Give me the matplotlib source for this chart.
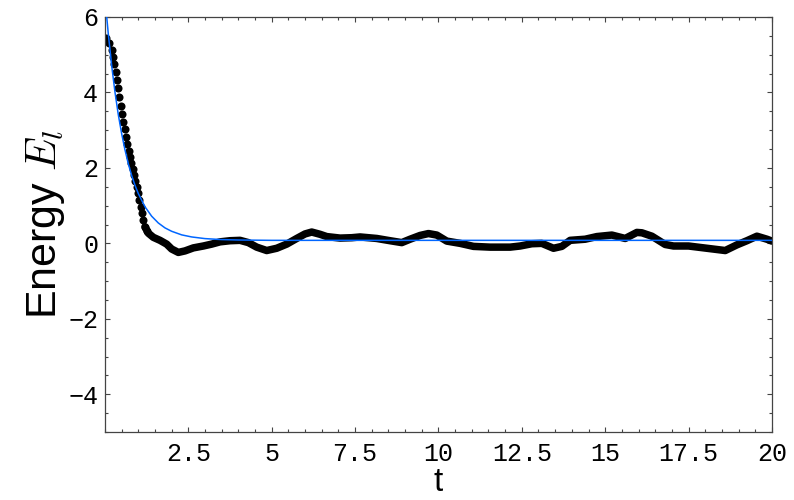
#!/usr/bin/env python3
"""Energy E_l against time t: sampled values (black) and the fitted decay (blue)."""

import matplotlib
matplotlib.use("Agg")
import matplotlib.pyplot as plt
from matplotlib.ticker import MultipleLocator

# early samples, drawn as separate dots on the steep drop
t_dots = [0.03, 0.13, 0.20, 0.25, 0.28, 0.32, 0.35, 0.39, 0.43, 0.47, 0.51,
          0.55, 0.59, 0.63, 0.67, 0.71, 0.75, 0.79, 0.83, 0.87, 0.91, 0.95,
          0.99, 1.03, 1.07, 1.11, 1.15, 1.20, 1.25]
e_dots = [5.44, 5.30, 5.13, 4.95, 4.75, 4.54, 4.33, 4.11, 3.87, 3.65, 3.43,
          3.23, 3.02, 2.83, 2.63, 2.46, 2.30, 2.14, 1.97, 1.81, 1.66, 1.50,
          1.34, 1.15, 0.97, 0.80, 0.62, 0.44, 0.34]

# later samples, dense enough that the dots merge into a thick trace
t_trace = [1.20, 1.30, 1.45, 1.65, 1.85, 2.00, 2.20, 2.40, 2.65, 2.95, 3.20,
           3.45, 3.75, 4.05, 4.30, 4.55, 4.85, 5.15, 5.45, 5.75, 6.00, 6.20,
           6.45, 6.65, 7.05, 7.40, 7.65, 8.15, 8.55, 8.90, 9.15, 9.45, 9.70,
           9.95, 10.25, 10.65, 11.05, 11.55, 12.15, 12.45, 12.80, 13.10,
           13.45, 13.70, 13.95, 14.40, 14.75, 15.20, 15.60, 15.95, 16.10,
           16.40, 16.80, 17.05, 17.50, 18.05, 18.60, 18.95, 19.25, 19.55,
           19.85, 20.00]
e_trace = [0.44, 0.27, 0.16, 0.08, -0.02, -0.15, -0.24, -0.20, -0.12, -0.07,
           -0.02, 0.04, 0.07, 0.08, 0.02, -0.10, -0.19, -0.13, -0.02, 0.13,
           0.25, 0.30, 0.24, 0.18, 0.14, 0.15, 0.17, 0.13, 0.07, 0.02, 0.11,
           0.21, 0.26, 0.22, 0.06, 0.00, -0.08, -0.10, -0.10, -0.07, -0.01,
           0.00, -0.13, -0.08, 0.08, 0.11, 0.18, 0.22, 0.13, 0.29, 0.28, 0.19,
           -0.03, -0.07, -0.07, -0.13, -0.19, -0.04, 0.07, 0.19, 0.11, 0.06]

# fitted exponential decay
t_fit = [0.04, 0.10, 0.20, 0.30, 0.40, 0.50, 0.60, 0.70, 0.80, 0.90, 1.00,
         1.20, 1.40, 1.60, 1.80, 2.00, 2.30, 2.60, 3.00, 3.50, 4.00, 5.00,
         20.0]
e_fit = [6.12, 5.55, 4.72, 4.01, 3.41, 2.91, 2.48, 2.11, 1.80, 1.54, 1.32,
         0.97, 0.72, 0.54, 0.41, 0.32, 0.225, 0.17, 0.126, 0.10, 0.089,
         0.08, 0.08]

x_ticks = [2.5, 5, 7.5, 10, 12.5, 15, 17.5, 20]
x_labels = ["2.5", "5", "7.5", "10", "12.5", "15", "17.5", "20"]
y_ticks = [-4, -2, 0, 2, 4, 6]
y_labels = ["\u22124", "\u22122", "0", "2", "4", "6"]

plt.rcParams["mathtext.fontset"] = "cm"

fig = plt.figure(figsize=(7.94, 5.0), dpi=100)
ax = fig.add_axes([0.1322, 0.136, 0.8400, 0.830])

ax.plot(t_trace, e_trace, color="black", linewidth=5.4,
        solid_capstyle="round", solid_joinstyle="round", zorder=2)
ax.plot(t_dots, e_dots, linestyle="none", marker="o", markersize=5.8,
        color="black", markeredgewidth=0, zorder=2)
ax.plot(t_fit, e_fit, color="#0066ff", linewidth=1.1, zorder=3)

ax.set_xlim(0, 20)
ax.set_ylim(-5, 6)
ax.set_xticks(x_ticks)
ax.set_xticklabels(x_labels)
ax.set_yticks(y_ticks)
ax.set_yticklabels(y_labels)
ax.xaxis.set_minor_locator(MultipleLocator(0.5))
ax.yaxis.set_minor_locator(MultipleLocator(0.5))

ax.tick_params(which="both", direction="in", top=True, right=True,
               color="#444444", width=0.8)
ax.tick_params(which="major", length=3.8)
ax.tick_params(which="minor", length=2.0)
ax.tick_params(axis="x", which="major", pad=7)
ax.tick_params(axis="y", which="major", pad=5)
for lab in ax.get_xticklabels() + ax.get_yticklabels():
    lab.set_fontfamily("Liberation Mono")
    lab.set_fontsize(18)
for spine in ax.spines.values():
    spine.set_color("#444444")
    spine.set_linewidth(0.9)

ax.set_xlabel("t", fontsize=24, family="Liberation Sans", labelpad=1)
ax.set_ylabel("Energy $E_l$", fontsize=31, family="Liberation Sans",
              labelpad=1)

fig.savefig("out.png", dpi=100)
